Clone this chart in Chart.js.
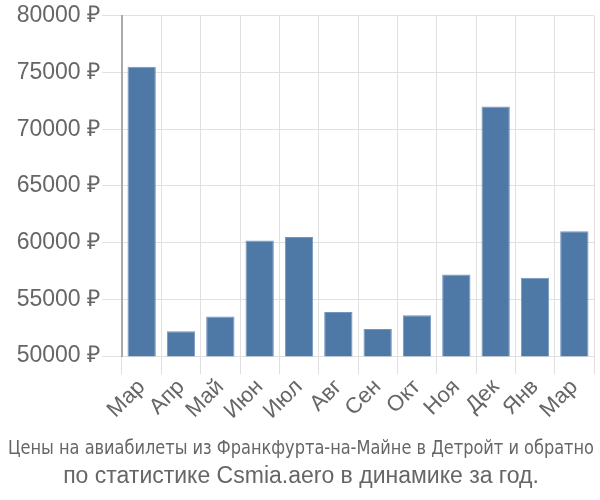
<!DOCTYPE html>
<html lang="ru">
<head>
<meta charset="UTF-8">
<title>Цены на авиабилеты</title>
<script src="https://cdn.jsdelivr.net/npm/chart.js"></script>
<style>
  html, body { margin: 0; padding: 0; background: #fff; }
  #wrap { width: 600px; height: 500px; }
</style>
</head>
<body>
<div id="wrap"><canvas id="chart"></canvas></div>
<script>
const months = ["Мар", "Апр", "Май", "Июн", "Июл", "Авг", "Сен", "Окт", "Ноя", "Дек", "Янв", "Мар"];
const prices = [75500, 52200, 53500, 60200, 60500, 53900, 52400, 53600, 57200, 72000, 56900, 61000];
const titleLine1 = "Цены на авиабилеты из Франкфурта-на-Майне в Детройт и обратно";
const titleLine2 = "по статистике Csmia.aero в динамике за год.";

const ctx = document.getElementById("chart").getContext("2d");
new Chart(ctx, {
  type: "bar",
  data: {
    labels: months,
    datasets: [{
      data: prices,
      backgroundColor: "#4e79a7",
      borderColor: "#7396c0",
      borderWidth: 1,
      barPercentage: 0.72,
      categoryPercentage: 1
    }]
  },
  options: {
    responsive: true,
    maintainAspectRatio: false,
    animation: false,
    layout: { padding: { top: 6, right: 6, left: 8, bottom: 0 } },
    plugins: {
      legend: { display: false },
      tooltip: { enabled: false },
      // bottom boxes stack outward, so the last line goes in the title
      title: {
        display: true,
        position: "bottom",
        text: titleLine2,
        color: "#666",
        font: { family: "'Liberation Sans', sans-serif", size: 23, weight: "normal" },
        padding: { top: 2, bottom: 10 }
      },
      subtitle: {
        display: true,
        position: "bottom",
        text: titleLine1,
        color: "#666",
        font: { family: "'Liberation Sans Narrow', 'DejaVu Sans Condensed', sans-serif", size: 20 },
        padding: { top: 12, bottom: 0 }
      }
    },
    scales: {
      x: {
        grid: { color: "#e0e0e0", tickLength: 18, offset: true },
        border: { color: "#e0e0e0" },
        ticks: {
          color: "#666",
          font: { family: "'Liberation Sans', sans-serif", size: 22 },
          autoSkip: false,
          maxRotation: 45,
          minRotation: 45,
          padding: 0
        }
      },
      y: {
        min: 50000,
        max: 80000,
        afterFit: s => { s.width = 114; },
        grid: { color: "#e0e0e0", tickLength: 20 },
        border: { color: "#aaa", width: 2 },
        ticks: {
          stepSize: 5000,
          color: "#666",
          font: { family: "'Liberation Sans', sans-serif", size: 23 },
          padding: 2,
          callback: v => v + " ₽"
        }
      }
    }
  }
});
</script>
</body>
</html>
